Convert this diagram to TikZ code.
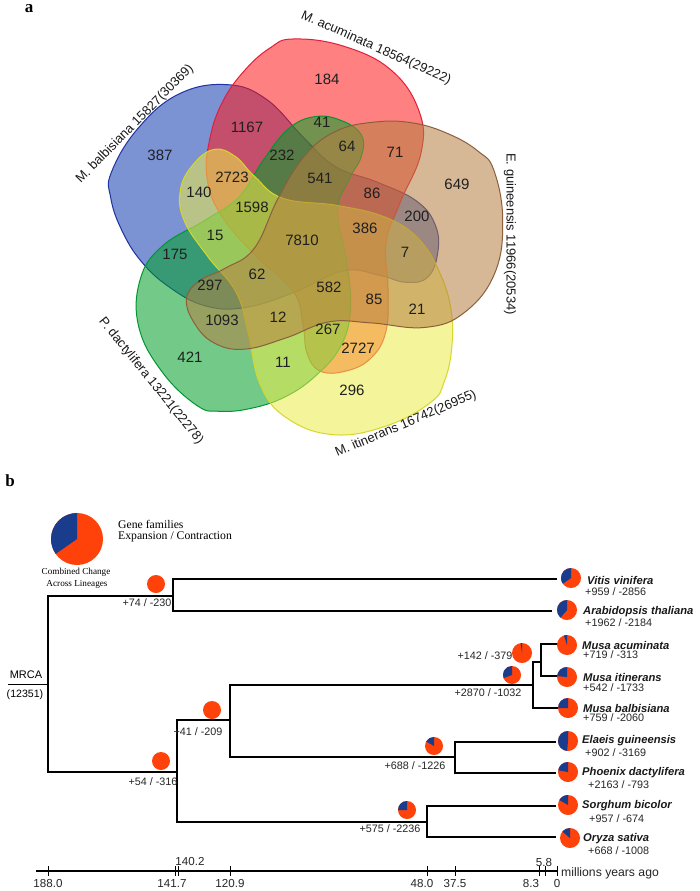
\documentclass[tikz,border=0pt]{standalone}
\usepackage{fontspec}
\setmainfont{Liberation Serif}
\setsansfont{Liberation Sans}
\definecolor{vblue}{RGB}{18,60,176}
\definecolor{vblueline}{RGB}{30,50,160}
\definecolor{vred}{RGB}{255,24,24}
\definecolor{vredline}{RGB}{225,30,60}
\definecolor{vbrown}{RGB}{182,127,64}
\definecolor{vbrownline}{RGB}{140,95,60}
\definecolor{vyellow}{RGB}{236,236,73}
\definecolor{vyellowline}{RGB}{215,215,40}
\definecolor{vgreen}{RGB}{0,160,40}
\definecolor{vgreenline}{RGB}{0,150,50}
\definecolor{pieor}{RGB}{255,65,10}
\definecolor{pieblu}{RGB}{25,60,140}
\newcommand{\setfs}[1]{\fontsize{#1}{#1}\selectfont}
\newcommand{\genepie}[4]{%
  \fill[pieor] (#1,#2) circle[radius=#3];
  \ifdim #4pt>0pt
  \fill[pieblu] (#1,#2) -- ++(90:#3) arc[start angle=90, end angle={90+#4}, radius=#3] -- cycle;
  \fi}
\begin{document}
\begin{tikzpicture}[x=1pt,y=1pt,
  lobe/.pic={\path[pic actions] plot[smooth cycle, tension=0.7] coordinates {(-33,195) (-10,204) (40,197) (88,173) (116,132) (118,90) (97,40) (83,0) (85,-45) (83,-88) (68,-115) (43,-128) (17,-128) (4,-110) (0,-82) (-10,-48) (-50,-10) (-82,28) (-96,65) (-93,105) (-80,142) (-58,173)};},
  setshape/.style={fill opacity=0.55, line width=1pt},
  vn/.style={font=\sffamily\setfs{15}, text=black!88, inner sep=0pt},
  setlab/.style={font=\sffamily\setfs{13}, text=black!90, inner sep=0pt},
  tree/.style={line width=2.8pt, black},
  numlab/.style={font=\sffamily\setfs{10.8}, text=black!85, inner sep=0pt},
  tiplab/.style={font=\sffamily\bfseries\itshape\setfs{11.2}, text=black!90, inner sep=0pt, anchor=west},
  tipnum/.style={font=\sffamily\setfs{10.8}, text=black!85, inner sep=0pt, anchor=west},
  axlab/.style={font=\sffamily\setfs{11.6}, text=black!85, inner sep=0pt},
  panel/.style={font=\rmfamily\bfseries\setfs{17}, inner sep=0pt}
]
\useasboundingbox (0,0) rectangle (700,-891);
\fill[white] (0,0) rectangle (700,-891);

% ---------------- panel a: Venn ----------------
\node[panel] (pa) at (29,-9) {a};
\pic[setshape, fill=vblue, draw=vblueline, rotate=67] at (303,-243) {lobe};
\pic[setshape, fill=vred, draw=vredline] at (303,-243) {lobe};
\pic[setshape, fill=vgreen, draw=vgreenline, rotate=144, scale=0.95] at (303,-243) {lobe};
\pic[setshape, fill=vyellow, draw=vyellowline, rotate=-144] at (303,-243) {lobe};
\pic[setshape, fill=vbrown, draw=vbrownline, rotate=-72] at (303,-243) {lobe};

\node[vn] (v387) at (160,-155) {387};
\node[vn] (v184) at (327,-79) {184};
\node[vn] (v1167) at (247,-127) {1167};
\node[vn] (v41) at (322,-122) {41};
\node[vn] (v232) at (282,-155) {232};
\node[vn] (v64) at (347,-146) {64};
\node[vn] (v71) at (395,-152) {71};
\node[vn] (v2723) at (232,-177) {2723};
\node[vn] (v541) at (320,-178) {541};
\node[vn] (v86) at (372,-193) {86};
\node[vn] (v649) at (457,-184) {649};
\node[vn] (v200) at (417,-216) {200};
\node[vn] (v140) at (199,-192) {140};
\node[vn] (v1598) at (252,-207) {1598};
\node[vn] (v386) at (365,-228) {386};
\node[vn] (v7810) at (302,-240) {7810};
\node[vn] (v7) at (405,-252) {7};
\node[vn] (v15) at (215,-235) {15};
\node[vn] (v175) at (175,-254) {175};
\node[vn] (v62) at (257,-274) {62};
\node[vn] (v297) at (210,-285) {297};
\node[vn] (v582) at (329,-287) {582};
\node[vn] (v85) at (374,-299) {85};
\node[vn] (v21) at (417,-309) {21};
\node[vn] (v1093) at (222,-320) {1093};
\node[vn] (v12) at (278,-317) {12};
\node[vn] (v267) at (328,-329) {267};
\node[vn] (v2727) at (358,-348) {2727};
\node[vn] (v421) at (190,-357) {421};
\node[vn] (v11) at (283,-362) {11};
\node[vn] (v296) at (352,-390) {296};

\node[setlab, rotate=45.5] (lbal) at (135,-124) {M. balbisiana 15827(30369)};
\node[setlab, rotate=-24] (lacu) at (376,-48) {M. acuminata 18564(29222)};
\node[setlab, rotate=-90] (legu) at (510,-234) {E. guineensis 11966(20534)};
\node[setlab, rotate=23] (liti) at (406,-424) {M. itinerans 16742(26955)};
\node[setlab, rotate=-51] (lpda) at (151,-381) {P. dactylifera 13221(22278)};

% ---------------- panel b: tree ----------------
\node[panel] (pb) at (10,-481) {b};
\genepie{77}{-539}{26}{125}
\node[font=\rmfamily\setfs{11.7}, inner sep=0pt, anchor=west] (gf) at (118,-524) {Gene families};
\node[font=\rmfamily\setfs{11.7}, inner sep=0pt, anchor=west] (ec) at (118,-537) {Expansion / Contraction};
\node[font=\rmfamily\setfs{9.2}, inner sep=0pt] (cc) at (76,-572) {Combined Change};
\node[font=\rmfamily\setfs{9.2}, inner sep=0pt] (al) at (77,-584) {Across Lineages};

\coordinate (root) at (48,-684);
\coordinate (mrcaL) at (8,-684);
\coordinate (nA) at (173,-596);
\coordinate (nB) at (177,-772);
\coordinate (nC) at (230,-720);
\coordinate (nD) at (533,-685);
\coordinate (nE) at (541,-662);
\coordinate (nF) at (455,-757);
\coordinate (nG) at (427,-822);
\coordinate (tVit) at (557,-579);
\coordinate (tAra) at (552,-611);
\coordinate (tAcu) at (558,-644);
\coordinate (tIti) at (558,-676);
\coordinate (tBal) at (558,-708);
\coordinate (tEla) at (556,-742);
\coordinate (tPho) at (556,-773);
\coordinate (tSor) at (556,-806);
\coordinate (tOry) at (556,-837);

\draw[line width=1pt] (mrcaL) -- (root);
\draw[tree] (nA) -| (root) |- (nB);
\draw[tree] (tVit) -| (nA) |- (tAra);
\draw[tree] (nC) -| (nB) |- (nG);
\draw[tree] (nD) -| (nC) |- (nF);
\draw[tree] (nE) -| (nD) |- (tBal);
\draw[tree] (tAcu) -| (nE) |- (tIti);
\draw[tree] (tEla) -| (nF) |- (tPho);
\draw[tree] (tSor) -| (nG) |- (tOry);

\node[font=\sffamily\setfs{11}, inner sep=0pt] (mrca) at (26,-675) {MRCA};
\node[font=\sffamily\setfs{10.6}, inner sep=0pt] (mrcan) at (25,-695) {(12351)};

% internal pies and labels
\genepie{156}{-584}{9}{0}
\genepie{212}{-710}{9}{0}
\genepie{161}{-761}{9}{0}
\genepie{522}{-653}{10}{8}
\genepie{512}{-675}{9}{110}
\genepie{434}{-746}{9}{60}
\genepie{407}{-810}{9}{90}
\node[numlab] (i74) at (147,-603) {+74 / -230};
\node[numlab] (i41) at (198,-732) {+41 / -209};
\node[numlab] (i54) at (153,-782) {+54 / -316};
\node[numlab] (i142) at (485,-656) {+142 / -379};
\node[numlab] (i2870) at (488,-693) {+2870 / -1032};
\node[numlab] (i688) at (415,-766) {+688 / -1226};
\node[numlab] (i575) at (390,-829) {+575 / -2236};

% tip pies
\genepie{571}{-578}{10}{125}
\genepie{567}{-610}{10}{140}
\genepie{567}{-645}{10}{18}
\genepie{567}{-677}{10}{85}
\genepie{568}{-708}{10}{90}
\genepie{568}{-741}{10}{175}
\genepie{568}{-772}{10}{80}
\genepie{568}{-805}{10}{60}
\genepie{570}{-838}{10}{50}

\node[tiplab] (sVit) at (587,-580) {Vitis vinifera};
\node[tipnum] (cVit) at (585,-592) {+959 / -2856};
\node[tiplab] (sAra) at (583,-612) {Arabidopsis thaliana};
\node[tipnum] (cAra) at (585,-623) {+1962 / -2184};
\node[tiplab] (sAcu) at (582,-645) {Musa acuminata};
\node[tipnum] (cAcu) at (583,-655) {+719 / -313};
\node[tiplab] (sIti) at (583,-677) {Musa itinerans};
\node[tipnum] (cIti) at (583,-688) {+542 / -1733};
\node[tiplab] (sBal) at (583,-708) {Musa balbisiana};
\node[tipnum] (cBal) at (583,-718) {+759 / -2060};
\node[tiplab] (sEla) at (582,-741) {Elaeis guineensis};
\node[tipnum] (cEla) at (585,-753) {+902 / -3169};
\node[tiplab] (sPho) at (582,-773) {Phoenix dactylifera};
\node[tipnum] (cPho) at (588,-785) {+2163 / -793};
\node[tiplab] (sSor) at (582,-806) {Sorghum bicolor};
\node[tipnum] (cSor) at (589,-819) {+957 / -674};
\node[tiplab] (sOry) at (583,-839) {Oryza sativa};
\node[tipnum] (cOry) at (588,-851) {+668 / -1008};

% time axis
\coordinate (axL) at (36,-871);
\coordinate (axR) at (557,-871);
\draw[line width=1.6pt] (axL) -- (axR);
\foreach \tx in {48,175,178,230,427,455,539,545,557}
  \draw[line width=1pt] (\tx,-866) -- (\tx,-876);
\node[axlab] (t188) at (48,-883) {188.0};
\node[axlab] (t141) at (172,-883) {141.7};
\node[axlab] (t140) at (190,-861) {140.2};
\node[axlab] (t120) at (230,-883) {120.9};
\node[axlab] (t48) at (422,-883) {48.0};
\node[axlab] (t37) at (455,-883) {37.5};
\node[axlab] (t8) at (531,-883) {8.3};
\node[axlab] (t5) at (544,-862) {5.8};
\node[axlab] (t0) at (557,-883) {0};
\node[font=\sffamily\setfs{12.2}, text=black!85, inner sep=0pt, anchor=west] (mya) at (561,-873) {millions years ago};
\end{tikzpicture}
\end{document}
